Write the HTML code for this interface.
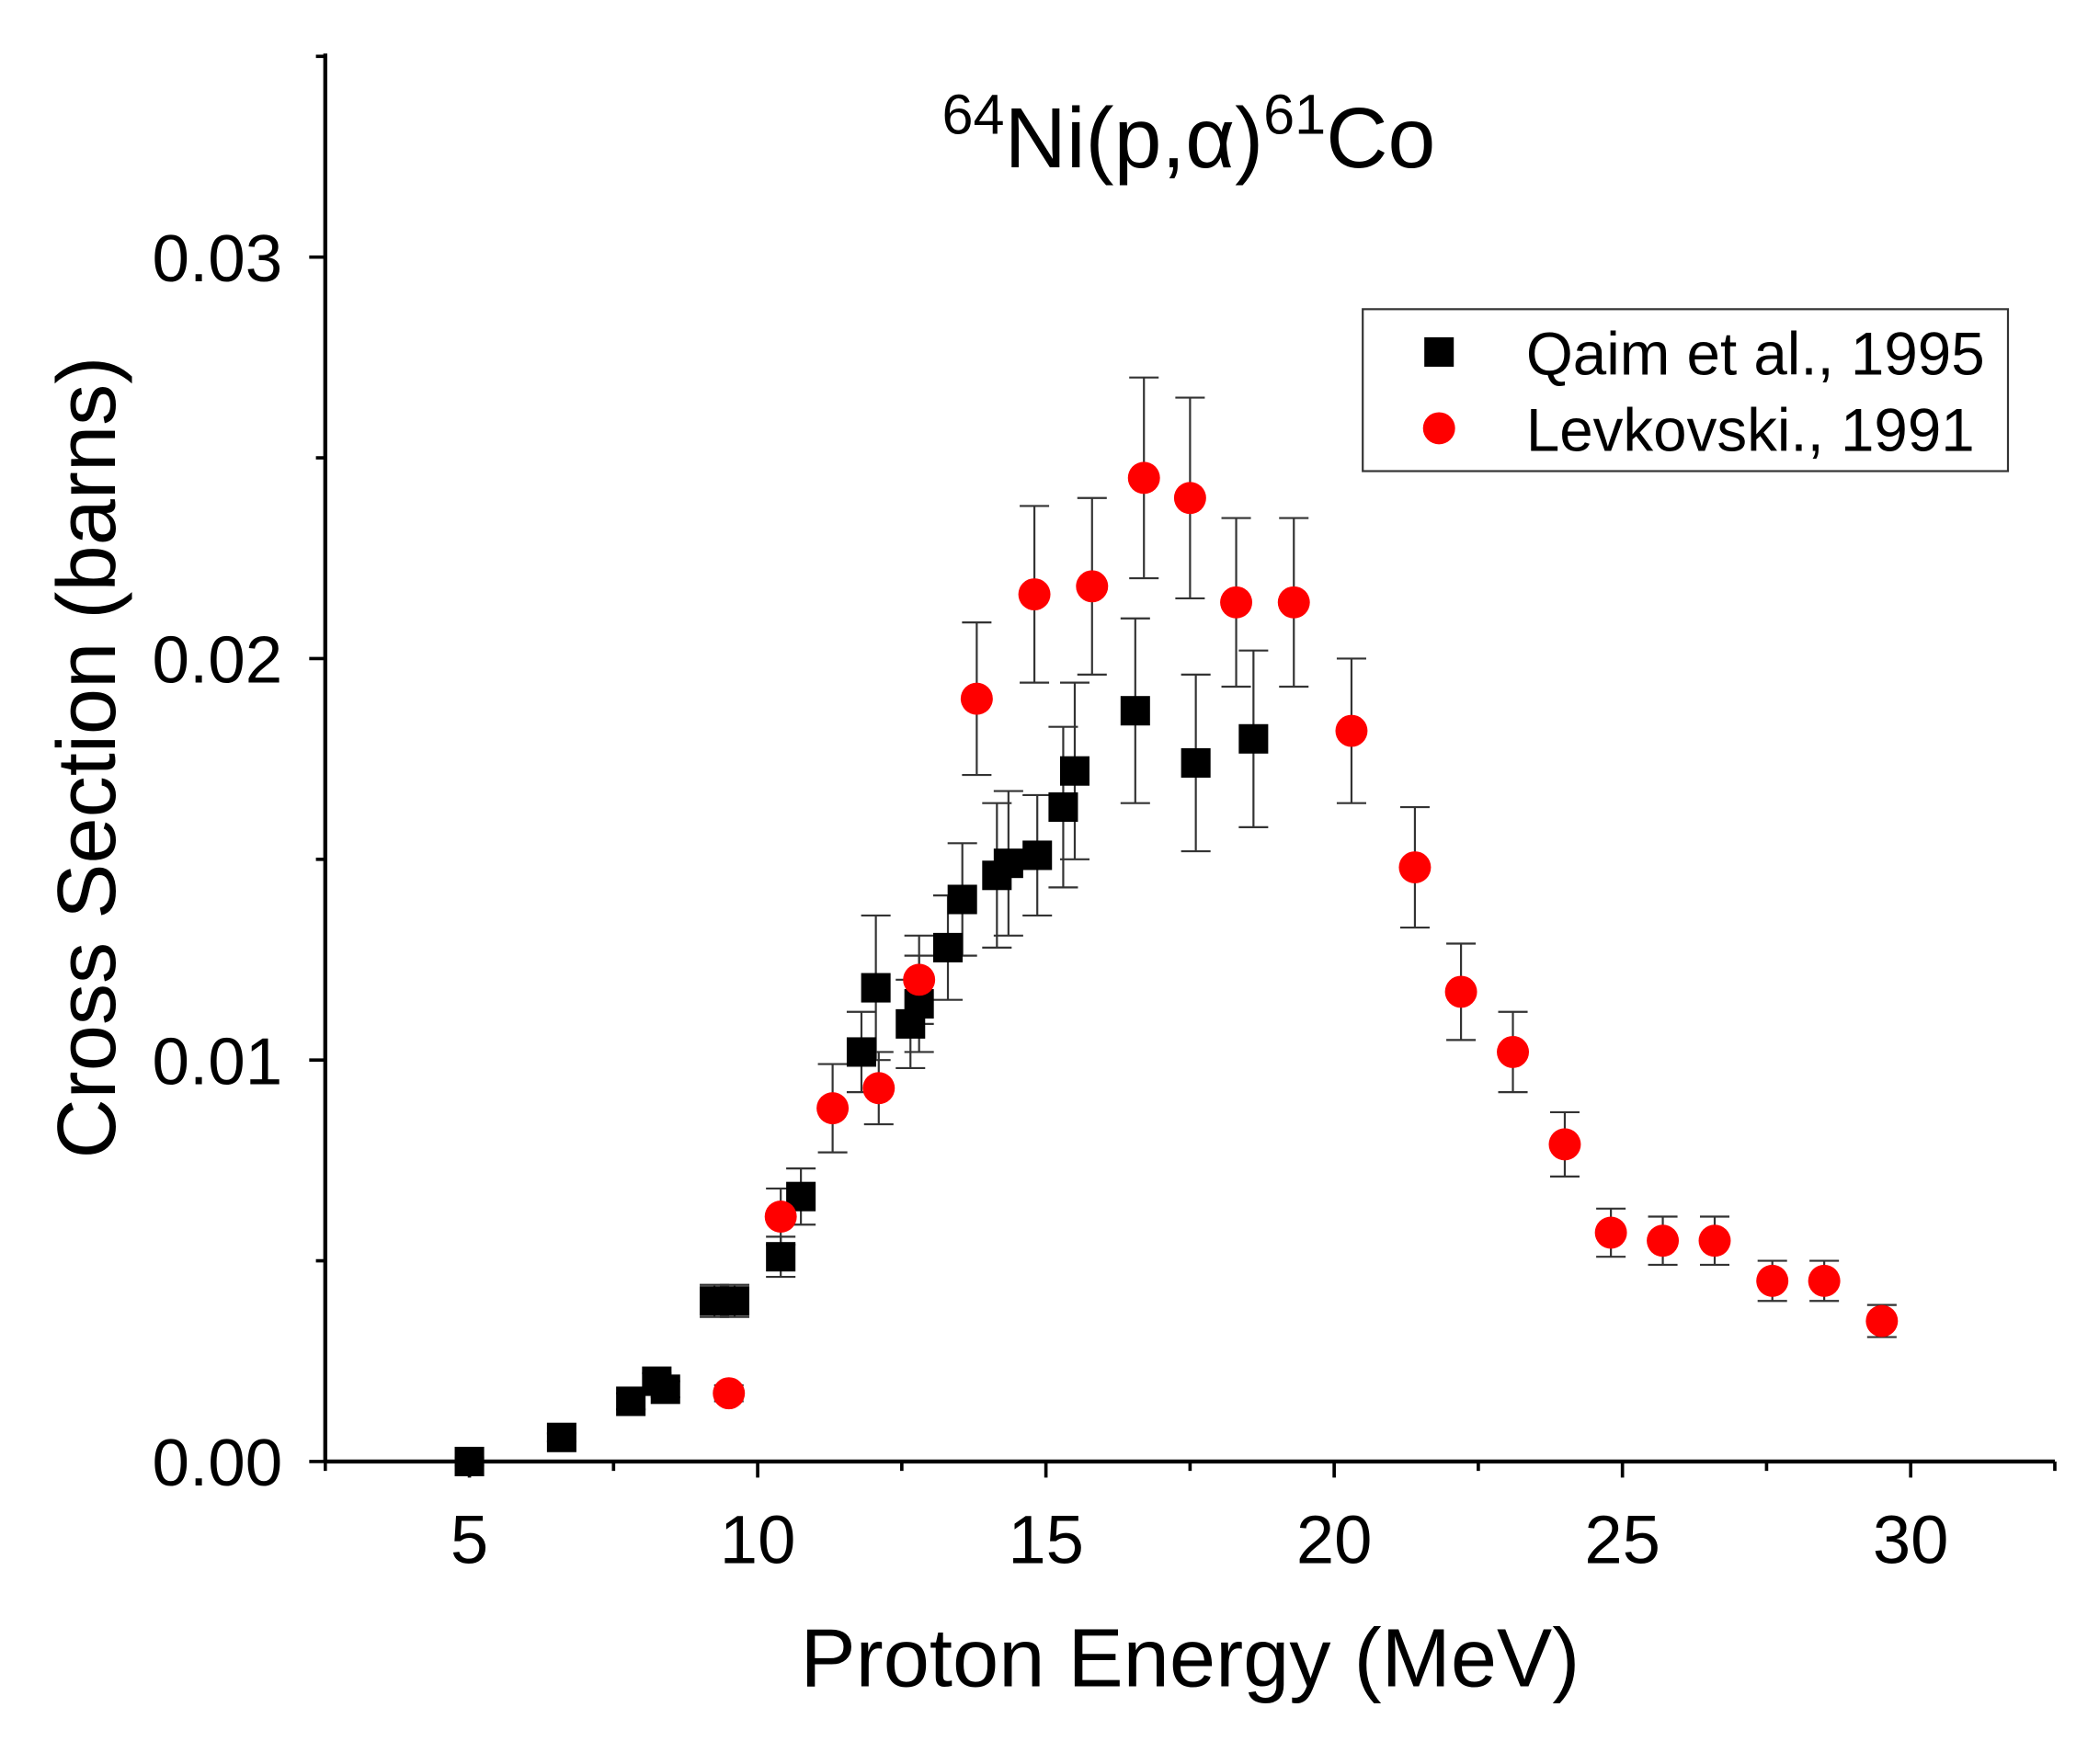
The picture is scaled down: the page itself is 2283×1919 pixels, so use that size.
<!DOCTYPE html>
<html><head><meta charset="utf-8"><style>
html,body{margin:0;padding:0;background:#fff}
svg{display:block;font-family:"Liberation Sans",sans-serif}
</style></head><body>
<svg id="chart" width="2283" height="1919" viewBox="0 0 1568 1318" preserveAspectRatio="none" xmlns="http://www.w3.org/2000/svg">
<g id="axes"></g>
<g id="marks"></g>
<text x="888" y="125" font-size="64" text-anchor="middle">
<tspan font-size="42" dy="-25">64</tspan><tspan dy="25">Ni(p,α)</tspan><tspan font-size="42" dy="-25">61</tspan><tspan dy="25">Co</tspan></text>
<text x="889" y="1260" font-size="62" text-anchor="middle">Proton Energy (MeV)</text>
<text transform="translate(86,566) rotate(-90)" font-size="62" text-anchor="middle">Cross Section (barns)</text>
<g>
<rect x="1018" y="231" width="482" height="121" fill="#fff" stroke="#333" stroke-width="1.5"/>
<rect x="1064" y="252" width="22" height="22" fill="#000"/>
<text x="1140" y="280" font-size="45">Qaim et al., 1995</text>
<circle cx="1075" cy="320" r="12" fill="#f00"/>
<text x="1140" y="337" font-size="45">Levkovski., 1991</text>
</g>
</svg>
<script>
const qaimX=[5.0,6.6,7.8,8.25,8.4,9.25,9.6,10.4,10.75,11.8,12.05,12.65,12.8,13.3,13.55,14.15,14.35,14.85,15.3,15.5,16.55,17.6,18.6];
const qaimY=[0.0000,0.0006,0.0015,0.0020,0.0018,0.0040,0.0040,0.0051,0.0066,0.0102,0.0118,0.0109,0.0114,0.0128,0.0140,0.0146,0.0149,0.0151,0.0163,0.0172,0.0187,0.0174,0.0180];
const qaimErr=[0.0001,0.0001,0.0002,0.0002,0.0002,0.0004,0.0004,0.0005,0.0007,0.0010,0.0018,0.0011,0.0012,0.0013,0.0014,0.0018,0.0018,0.0015,0.0020,0.0022,0.0023,0.0022,0.0022];
const levX=[9.5,10.4,11.3,12.1,12.8,13.8,14.8,15.8,16.7,17.5,18.3,19.3,20.3,21.4,22.2,23.1,24.0,24.8,25.7,26.6,27.6,28.5,29.5];
const levY=[0.0017,0.0061,0.0088,0.0093,0.0120,0.0190,0.0216,0.0218,0.0245,0.0240,0.0214,0.0214,0.0182,0.0148,0.0117,0.0102,0.0079,0.0057,0.0055,0.0055,0.0045,0.0045,0.0035];
const levErr=[0.0002,0.0007,0.0011,0.0009,0.0011,0.0019,0.0022,0.0022,0.0025,0.0025,0.0021,0.0021,0.0018,0.0015,0.0012,0.0010,0.0008,0.0006,0.0006,0.0006,0.0005,0.0005,0.0004];
const xTicks=[5,10,15,20,25,30];
const yTicks=[0,0.01,0.02,0.03];
const yTickLabels=["0.00","0.01","0.02","0.03"];

const X0=243,X1=1535,Y0=1092,Y1=40,xMin=2.5,xMax=32.5,yMin=0,yMax=0.03507;
const sx=v=>X0+(v-xMin)/(xMax-xMin)*(X1-X0);
const sy=v=>Y0-(v-yMin)/(yMax-yMin)*(Y0-Y1);
const NS="http://www.w3.org/2000/svg";
function mk(tag,attrs,parent){const e=document.createElementNS(NS,tag);for(const k in attrs)e.setAttribute(k,attrs[k]);parent.appendChild(e);return e;}
const axes=document.getElementById('axes'),marks=document.getElementById('marks');
let e=mk('line',{x1:X0,y1:Y1,x2:X0,y2:Y0+1,stroke:'#000','stroke-width':3},axes);


e=mk('line',{x1:X0-1,y1:Y0,x2:X1,y2:Y0,stroke:'#000','stroke-width':3},axes);


for(let v=2.5;v<=32.51;v+=2.5){
  const major=Math.abs(v/5-Math.round(v/5))<1e-6;
  e=mk('line',{x1:sx(v),y1:Y0,x2:sx(v),y2:Y0+(major?12:7),stroke:'#000','stroke-width':2.5},axes);
  
  
}
xTicks.forEach(v=>{
  e=mk('text',{x:sx(v),y:1168,'font-size':51,'text-anchor':'middle'},axes);e.textContent=v;
  
  
});
for(let v=0;v<=0.0351;v+=0.005){
  const major=Math.abs(v/0.01-Math.round(v/0.01))<1e-6;
  e=mk('line',{x1:X0,y1:sy(v),x2:X0-(major?12:7),y2:sy(v),stroke:'#000','stroke-width':2.5},axes);
  
  
}
yTicks.forEach((v,i)=>{
  e=mk('text',{x:211,y:sy(v)+18,'font-size':50,'text-anchor':'end'},axes);e.textContent=yTickLabels[i];
  
  
});
function errBar(x,y,er){
  const g=mk('g',{stroke:'#333','stroke-width':1.5},marks);
  
  
  mk('line',{x1:sx(x),y1:sy(y-er),x2:sx(x),y2:sy(y+er)},g);
  mk('line',{x1:sx(x)-11,y1:sy(y+er),x2:sx(x)+11,y2:sy(y+er)},g);
  mk('line',{x1:sx(x)-11,y1:sy(y-er),x2:sx(x)+11,y2:sy(y-er)},g);
}
qaimX.forEach((x,i)=>errBar(x,qaimY[i],qaimErr[i]));
levX.forEach((x,i)=>errBar(x,levY[i],levErr[i]));
qaimX.forEach((x,i)=>{
  e=mk('rect',{x:sx(x)-11,y:sy(qaimY[i])-11,width:22,height:22,fill:'#000'},marks);
  
  
});
levX.forEach((x,i)=>{
  e=mk('circle',{cx:sx(x),cy:sy(levY[i]),r:12,fill:'#f00'},marks);
  
  
});
</script>
</body></html>
